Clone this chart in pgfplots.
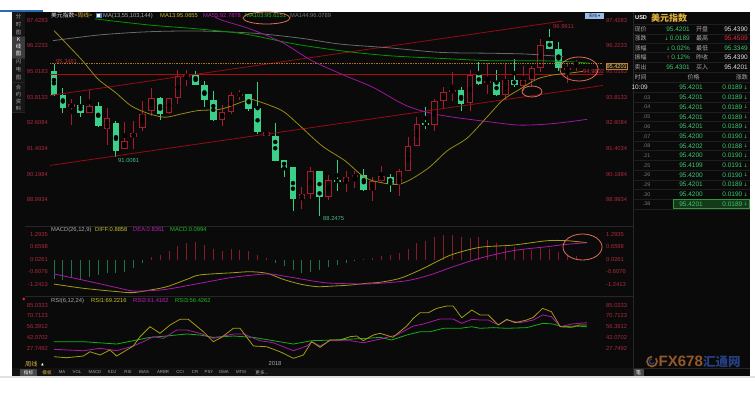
\documentclass[border=0pt]{standalone}
\usepackage{pgfplots}
\pgfplotsset{compat=1.18}
\usepackage{pgfplotstable}
\usepackage{fontspec}
\setmainfont{Liberation Sans}
\newfontfamily\cjk{Noto Sans CJK SC}
\newfontfamily\sym{DejaVu Sans}
\definecolor{bg}{RGB}{10,10,10}
\definecolor{upred}{RGB}{165,28,45}
\definecolor{dngreen}{RGB}{58,208,138}
\definecolor{trend}{RGB}{150,10,20}
\definecolor{hline}{RGB}{175,10,15}
\definecolor{maA}{RGB}{150,140,20}
\definecolor{maB}{RGB}{160,20,160}
\definecolor{maC}{RGB}{0,150,0}
\definecolor{maD}{RGB}{105,105,105}
\definecolor{lbl}{RGB}{175,40,60}
\definecolor{macdR}{RGB}{140,25,40}
\definecolor{macdG}{RGB}{30,115,75}
\definecolor{rsiA}{RGB}{165,155,20}
\definecolor{rsiB}{RGB}{170,25,170}
\definecolor{rsiC}{RGB}{20,175,20}
\definecolor{ring}{RGB}{225,110,90}
\definecolor{sep}{RGB}{38,38,38}
\definecolor{txt}{RGB}{170,170,170}
\definecolor{valg}{RGB}{60,200,110}
\definecolor{valr}{RGB}{230,40,60}
\definecolor{gold}{RGB}{225,175,60}
\definecolor{hy}{RGB}{200,190,40}
\definecolor{hm}{RGB}{190,30,190}
\definecolor{hg}{RGB}{30,190,30}
\definecolor{topblue}{RGB}{42,106,184}
\definecolor{lgray}{RGB}{225,225,225}
\definecolor{dotc}{RGB}{165,115,35}
\definecolor{boxblue}{RGB}{150,190,230}
\definecolor{iconblue}{RGB}{90,120,200}
\definecolor{tabbg}{RGB}{18,18,18}
\definecolor{tabhl}{RGB}{72,72,72}
\definecolor{rowsep}{RGB}{30,30,30}
\definecolor{hlfill}{RGB}{20,58,25}
\definecolor{hldraw}{RGB}{50,150,60}
\definecolor{wmorange}{RGB}{150,88,38}
\definecolor{wmblue}{RGB}{38,62,130}
\definecolor{pbox}{RGB}{190,130,40}
\definecolor{pboxfill}{RGB}{28,22,10}
\definecolor{pboxtxt}{RGB}{235,205,130}
\definecolor{lowg}{RGB}{70,190,130}
\definecolor{wht}{RGB}{225,225,225}
\definecolor{dimt}{RGB}{120,120,120}
\definecolor{navy}{RGB}{20,40,90}
\definecolor{side}{RGB}{22,22,22}
\definecolor{sidehl}{RGB}{60,60,60}
\newcommand\fs{\fontsize{5.8bp}{6bp}\selectfont}
\newcommand\fv{\fontsize{6.5bp}{7bp}\selectfont}

\pgfplotstableread{
i O H L C
0 95.02 95.35 93.88 93.90
1 93.93 94.24 93.08 93.29
3 93.46 93.88 92.89 93.05
5 93.41 93.57 92.40 92.47
7 92.60 92.71 91.01 91.27
12 93.76 93.80 92.74 93.02
16 94.85 95.02 94.38 94.39
17 94.39 94.58 93.36 93.68
18 93.68 94.11 92.68 92.74
22 93.96 93.97 93.18 93.26
23 93.29 94.51 92.08 92.16
25 92.00 92.59 90.83 90.83
26 90.88 90.88 90.08 90.49
27 90.52 90.55 88.49 89.04
30 90.33 90.35 88.25 89.14
32 89.93 90.88 89.42 89.82
35 90.18 90.44 89.40 89.47
38 90.08 90.21 89.35 89.74
42 92.59 93.34 92.32 92.51
46 94.15 94.30 93.18 93.49
48 94.86 95.47 94.39 94.43
50 94.54 95.10 93.88 93.93
52 94.63 95.60 94.27 94.38
56 96.46 96.99 96.07 96.07
57 96.07 96.38 95.05 95.18
}\greentab

\pgfplotstableread{
i O H L C
2 93.34 93.72 92.52 93.49
4 93.05 94.15 93.05 93.38
6 92.32 93.30 91.58 92.82
8 91.39 92.63 91.39 91.77
9 91.93 92.68 91.38 92.13
10 92.36 93.62 92.21 93.02
11 93.18 94.24 92.94 93.76
13 93.05 93.78 93.03 93.76
14 93.76 95.08 93.49 94.79
15 94.74 95.08 94.35 94.86
19 92.74 93.46 92.47 93.10
20 93.10 94.04 93.02 93.91
21 93.88 94.15 93.68 93.96
24 92.00 92.24 91.98 92.16
28 89.04 89.58 88.57 89.27
29 89.27 90.55 89.04 90.33
31 89.14 90.18 88.99 89.93
33 89.82 90.33 89.38 90.08
34 90.05 90.36 89.55 90.16
36 89.47 90.05 88.96 89.89
37 89.89 90.57 89.82 90.13
39 89.74 90.44 89.19 90.33
40 90.33 91.96 90.33 91.51
41 91.51 92.89 91.50 92.55
43 92.51 93.72 92.24 93.64
44 93.64 94.27 93.30 94.07
45 94.04 94.98 93.62 94.15
47 93.52 95.08 93.18 94.86
49 94.47 95.40 93.96 94.55
51 93.93 95.41 93.72 94.63
53 94.35 95.29 94.11 94.63
54 94.63 95.29 94.30 95.16
55 95.16 96.54 94.98 96.27
58 95.10 95.41 94.47 95.17
59 95.33 95.55 95.04 95.42
}\redtab

\pgfplotstableread{
i m
0 -0.98
1 -1.01
2 -0.93
3 -0.98
4 -0.85
5 -0.76
6 -0.68
7 -0.68
8 -0.60
9 -0.43
10 -0.18
11 0.12
12 0.24
13 0.44
14 0.69
15 0.86
16 0.89
17 0.74
18 0.56
19 0.46
20 0.53
21 0.49
22 0.44
23 0.24
24 0.11
25 -0.18
26 -0.31
27 -0.51
28 -0.68
29 -0.60
30 -0.51
31 -0.38
32 -0.26
33 -0.18
34 -0.06
35 0.04
36 0.07
37 0.19
38 0.24
39 0.36
40 0.53
41 0.83
42 0.96
43 1.13
44 1.25
45 1.25
46 1.16
47 1.08
48 1.13
49 0.99
50 0.83
51 0.66
52 0.63
53 0.53
54 0.49
55 0.58
56 0.53
57 0.41
58 0.24
59 0.19
}\macdtab

\pgfplotsset{panel/.style={scale only axis, hide axis, width=553bp,
  xmin=-0.45, xmax=62.03, anchor=north west, clip=true}}
\tikzset{t/.style={inner sep=0pt, font=\fs}}

\begin{document}
\begin{tikzpicture}[x=1bp,y=-1bp]
\useasboundingbox (0,0) rectangle (755,392);
\fill[white] (0,0) rectangle (755,392);
\fill[bg] (12,12) rectangle (750,376);
\fill[topblue] (0,10) rectangle (43,12);
\fill[lgray] (0,376) rectangle (755,378);
% left sidebar
\fill[side] (12,12) rectangle (25,112);
\fill[sidehl] (12,36) rectangle (25,58);
\draw[sep] (12,36) -- (25,36) (12,58) -- (25,58) (12,82) -- (25,82) (12,112) -- (25,112);
\node[align=center, text=txt, inner sep=0pt, font=\cjk\fontsize{5.3bp}{8bp}\selectfont] at (18.5,25) {分\\时\\图};
\node[align=center, text=white, inner sep=0pt, font=\cjk\fontsize{5.3bp}{7bp}\selectfont] at (18.5,47) {K\\线\\图};
\node[align=center, text=txt, inner sep=0pt, font=\cjk\fontsize{5.3bp}{8bp}\selectfont] at (18.5,70) {闪\\电\\图};
\node[align=center, text=txt, inner sep=0pt, font=\cjk\fontsize{5.3bp}{7bp}\selectfont] at (18.5,97.5) {合\\约\\资\\料};
% separators
\draw[sep, line width=0.6bp] (25,226) -- (633,226) (25,296) -- (633,296) (12,368) -- (750,368);
\draw[sep, line width=0.8bp] (633,12) -- (633,376);

% ===== main price panel =====
\begin{axis}[panel, at={(50bp,-13bp)}, height=211bp, ymin=87.863, ymax=97.756]
% green (falling) candles
\addplot[only marks, mark=none, forget plot, error bars/.cd, y dir=both, y explicit, error mark=none,
  error bar style={draw=dngreen, line width=0.9bp}]
  table[x=i, y expr={(\thisrow{H}+\thisrow{L})/2}, y error expr={(\thisrow{H}-\thisrow{L})/2}] {\greentab};
\addplot[only marks, mark=none, forget plot, error bars/.cd, y dir=both, y explicit, error mark=none,
  error bar style={draw=dngreen, line width=6.6bp}]
  table[x=i, y expr={(\thisrow{O}+\thisrow{C})/2}, y error expr={max(abs(\thisrow{O}-\thisrow{C})/2,0.02)}] {\greentab};
% red (rising) hollow candles
\addplot[only marks, mark=none, forget plot, error bars/.cd, y dir=both, y explicit, error mark=none,
  error bar style={draw=upred, line width=0.9bp}]
  table[x=i, y expr={(\thisrow{H}+\thisrow{L})/2}, y error expr={(\thisrow{H}-\thisrow{L})/2}] {\redtab};
\addplot[only marks, mark=none, forget plot, error bars/.cd, y dir=both, y explicit, error mark=none,
  error bar style={draw=upred, line width=6.6bp}]
  table[x=i, y expr={(\thisrow{O}+\thisrow{C})/2}, y error expr={max(abs(\thisrow{O}-\thisrow{C})/2,0.03)}] {\redtab};
\addplot[only marks, mark=none, forget plot, error bars/.cd, y dir=both, y explicit, error mark=none,
  error bar style={draw=bg, line width=4.6bp}]
  table[x=i, y expr={(\thisrow{O}+\thisrow{C})/2}, y error expr={max(abs(\thisrow{O}-\thisrow{C})/2-0.045,0)}] {\redtab};
% trend lines
\addplot[trend, line width=0.8bp] coordinates {(-0.45,93.89) (57.5,97.38)};
\addplot[trend, line width=0.8bp] coordinates {(-0.45,90.61) (62.03,94.36)};
\addplot[hline, line width=0.8bp] coordinates {(-0.45,94.89) (62.03,94.89)};
\addplot[dotc, densely dotted, line width=0.7bp] coordinates {(-0.45,95.40) (62.03,95.40)};
% moving averages
\addplot[maD, line width=0.8bp, smooth, tension=0.5] coordinates {(-0.11,96.46) (5.20,96.73) (10.85,96.88) (16.50,96.91) (22.49,96.81) (27.80,96.58) (32.32,96.30) (37.97,96.12) (43.62,95.91) (49.27,95.87) (53.45,95.83) (57.51,95.71)};
\addplot[maC, line width=0.8bp, smooth, tension=0.5] coordinates {(4.63,97.48) (10.85,97.19) (16.27,97.01) (21.58,96.77) (27.23,96.30) (32.88,95.96) (37.97,95.75) (43.62,95.63) (49.27,95.52) (54.58,95.52) (58.31,95.47) (60.56,95.40)};
\addplot[maB, line width=0.8bp, smooth, tension=0.5] coordinates {(18.19,97.57) (19.10,97.40) (22.15,97.01) (25.76,96.38) (29.15,95.52) (32.88,94.82) (36.05,94.27) (39.89,93.40) (43.62,92.97) (49.27,92.65) (52.66,92.50) (56.38,92.57) (60.23,92.77)};
\addplot[maA, line width=0.8bp, smooth, tension=0.5] coordinates {(0,96.93) (3.05,95.60) (4.97,94.66) (6.89,94.05) (8.70,93.41) (10.62,93.05) (12.54,92.87) (14.35,93.02) (16.27,93.18) (18.98,93.26) (21.92,93.68) (23.05,93.62) (25.76,93.18) (27.57,92.55) (30.28,91.53) (32.88,90.83) (34.58,90.21) (36.05,89.89) (39.10,89.74) (42.15,90.44) (44.41,91.29) (46.67,91.89) (48.93,92.88) (50.73,93.68) (52.66,94.19) (54.58,94.66) (56.38,94.85) (58.31,94.94) (59.77,95.02)};
\end{axis}

% ===== MACD panel =====
\begin{axis}[panel, at={(50bp,-226bp)}, height=70bp, ymin=-1.821, ymax=1.700]
\addplot[ycomb, macdR, line width=0.9bp, mark=none] table[x=i, y expr={max(\thisrow{m},0)}] {\macdtab};
\addplot[ycomb, macdG, line width=0.9bp, mark=none] table[x=i, y expr={min(\thisrow{m},0)}] {\macdtab};
\addplot[rsiA, line width=0.8bp, smooth, tension=0.5] coordinates {(0,-1.22) (3.28,-1.43) (7.12,-1.60) (8.93,-1.65) (10.85,-1.52) (12.77,-1.35) (15.03,-0.98) (16.50,-0.76) (20.23,-0.65) (22.15,-0.60) (24.07,-0.68) (25.88,-0.98) (27.80,-1.22) (29.72,-1.35) (31.53,-1.32) (33.45,-1.27) (35.37,-1.18) (36.84,-1.13) (39.10,-0.93) (41.36,-0.51) (43.62,-0.01) (45.08,0.28) (48.14,0.63) (51.86,0.74) (55.71,0.96) (57.97,0.96) (60.23,0.86)};
\addplot[rsiB, line width=0.8bp, smooth, tension=0.5] coordinates {(0,-0.71) (3.28,-1.02) (7.12,-1.40) (8.93,-1.57) (10.85,-1.55) (12.77,-1.48) (16.50,-1.18) (20.23,-0.88) (24.07,-0.71) (25.88,-0.81) (29.72,-1.10) (31.53,-1.18) (35.37,-1.22) (36.84,-1.18) (39.89,-1.05) (42.49,-0.76) (45.08,-0.35) (48.14,0.08) (51.86,0.46) (55.71,0.66) (57.97,0.78) (60.23,0.86)};
\end{axis}

% ===== RSI panel =====
\begin{axis}[panel, at={(50bp,-296bp)}, height=72bp, ymin=1.64, ymax=96.95]
\addplot[rsiC, line width=0.8bp] coordinates {(0,36.5) (3.31,36.5) (7.08,33.4) (8.96,37.8) (10.85,42.2) (12.74,44.0) (15.0,46.7) (16.5,45.3) (18.0,42.2) (20.27,44.0) (22.53,42.2) (24.78,37.8) (27.05,33.4) (29.12,37.8) (31.57,38.7) (35.33,40.9) (36.84,42.2) (38.15,38.7) (39.85,45.3) (41.36,49.7) (42.5,49.7) (44.0,54.2) (45.9,54.2) (47.2,56.3) (48.14,54.2) (49.65,55.1) (51.15,54.2) (53.4,55.1) (55.25,60.8) (56.4,59.9) (57.4,56.3) (59.0,57.2) (60.2,56.3)};
\addplot[rsiB, line width=0.8bp] coordinates {(0,26.4) (3.31,24.5) (5.2,27.7) (7.08,24.5) (8.96,30.8) (10.09,36.5) (11.23,43.1) (12.36,40.9) (13.86,51.9) (15.0,51.9) (16.5,47.6) (18.0,40.9) (20.27,46.7) (21.4,46.7) (23.27,37.8) (24.78,35.1) (27.05,24.5) (28.56,30.8) (29.12,36.5) (30.06,30.8) (31.19,37.8) (33.45,37.8) (34.95,35.1) (36.84,40.0) (38.7,45.3) (40.6,57.2) (41.73,59.9) (43.6,66.5) (45.1,66.5) (46.07,60.8) (47.2,66.0) (48.14,65.2) (49.07,65.2) (50.2,58.6) (51.15,65.2) (52.66,61.6) (54.16,65.2) (55.2,71.8) (56.2,69.6) (57.2,56.3) (58.5,59.9) (60.2,61.6)};
\addplot[rsiA, line width=0.8bp] coordinates {(0,16.6) (1.43,15.3) (3.31,17.5) (4.07,23.2) (5.2,18.9) (6.33,25.5) (7.08,17.5) (8.21,25.5) (8.96,30.8) (9.72,43.1) (10.85,56.3) (11.98,47.6) (13.11,58.6) (14.24,66.1) (15.18,66.1) (16.88,49.7) (18.0,36.5) (18.95,42.3) (20.27,54.2) (21.02,54.2) (22.53,30.8) (24.03,29.8) (25.54,23.2) (27.05,14.5) (28.18,18.9) (29.12,36.5) (30.06,29.0) (31.19,38.7) (32.32,38.7) (33.45,43.1) (34.2,44.0) (34.95,37.8) (36.08,45.3) (36.84,47.6) (38.3,42.3) (39.85,57.2) (40.6,67.4) (41.36,74.9) (42.3,74.9) (43.24,80.6) (44.37,83.7) (45.1,83.7) (46.07,68.2) (47.2,78.4) (48.14,71.8) (49.07,71.8) (50.2,58.6) (51.15,66.1) (52.1,61.6) (53.4,65.2) (54.16,68.7) (55.2,80.6) (56.2,76.2) (57.2,56.3) (58.5,55.5) (59.4,58.6) (60.2,58.6)};
\end{axis}

% ===== axis labels =====
\foreach \v/\y in {97.4283/20.0, 96.2233/45.7, 95.0183/71.6, 93.8133/97.1, 92.6084/122.8, 91.4034/148.5, 90.1984/174.2, 88.9934/199.9,
  1.2935/234.1, 0.6598/246.7, 0.0261/259.3, -0.6076/271.9, -1.2413/284.5,
  85.0333/305.0, 70.7123/315.8, 56.3912/326.6, 42.0702/337.5, 27.7492/348.3}{
  \node[t, anchor=east, text=lbl] at (48,\y) {\v};
  \node[t, anchor=west, text=lbl] at (606,\y) {\v};
}
% current price box
\node[inner sep=0.8bp, draw=pbox, fill=pboxfill, text=pboxtxt, font=\fontsize{5.6bp}{6bp}\selectfont, anchor=west] at (605.5,66.3) {95.4201};
\fill[boxblue] (585,13) rectangle (604,19);
\node[inner sep=0pt, font=\cjk\fontsize{4.2bp}{5bp}\selectfont, text=navy] at (594.5,16) {周线\,{\sym ▾}};

% extreme value labels
\node[t, anchor=west, text=lbl] at (56,61.3) {95.3481};
\node[t, anchor=west, text=lowg] at (118,160.7) {91.0081};
\node[t, anchor=west, text=lowg] at (323,218) {88.2475};
\node[t, anchor=west, text=lbl] at (553,26.3) {96.9911};
\node[t, anchor=west, text=valr] at (583,71.3) {94.9802};

% panel headers
\fill[iconblue] (96,12.8) rectangle (101.5,18.3);
\fill[white] (97.3,14) rectangle (100.2,17);
\node[t, anchor=west, text=wht] at (51,15.5) {\cjk 美元指数\textcolor{gold}{<周线>}};
\node[t, anchor=west, text=txt] at (103,15.5) {MA(13,55,103,144)};
\node[t, anchor=west, text=hy] at (160,15.5) {MA13:95.0655};
\node[t, anchor=west, text=hm] at (203,15.5) {MA55:92.7878};
\node[t, anchor=west, text=hg] at (245,15.5) {MA103:95.6151};
\node[t, anchor=west, text=dimt] at (290,15.5) {MA144:96.0789};

\node[t, anchor=west, text=txt] at (51,229.5) {MACD(26,12,9)};
\node[t, anchor=west, text=hy] at (95,229.5) {DIFF:0.8858};
\node[t, anchor=west, text=hm] at (133,229.5) {DEA:0.8361};
\node[t, anchor=west, text=hg] at (170,229.5) {MACD:0.0994};

\node[t, anchor=west, text=txt] at (51,300.5) {RSI(6,12,24)};
\node[t, anchor=west, text=hy] at (91,300.5) {RSI1:69.2216};
\node[t, anchor=west, text=hm] at (133,300.5) {RSI2:61.4162};
\node[t, anchor=west, text=hg] at (175,300.5) {RSI3:56.4262};
\node[inner sep=0pt, text=valr, font=\sym\fontsize{4bp}{5bp}\selectfont] at (24,299.5) {◆};

% annotation rings
\draw[ring, line width=0.8bp] (266.5,18) ellipse [x radius=23.5bp, y radius=6bp];
\draw[ring, line width=0.8bp] (579,69) ellipse [x radius=19bp, y radius=12bp];
\draw[ring, line width=0.8bp] (532,91.5) ellipse [x radius=10bp, y radius=5.5bp];
\draw[ring, line width=0.8bp] (582.5,247) ellipse [x radius=19.5bp, y radius=13bp];

% bottom bar
\node[t, text=txt] at (275,363) {2018};
\node[inner sep=0pt, anchor=west, text=gold, font=\cjk\fontsize{6.2bp}{7bp}\selectfont] at (25,364) {周线};
\node[inner sep=0pt, text=white, font=\sym\fontsize{3.5bp}{4bp}\selectfont] at (42.5,364.5) {▲};
\fill[tabbg] (12,368.4) rectangle (632.6,376);
\fill[tabhl] (20,369) rectangle (37,375.5);
\node[inner sep=0pt, text=white, font=\cjk\fontsize{4.6bp}{5bp}\selectfont] at (28.5,372.3) {指标};
\node[inner sep=0pt, text=gold, font=\cjk\fontsize{4.6bp}{5bp}\selectfont] at (47,372.3) {模板};
\foreach \n/\x in {MA/62, VOL/77, MACD/95, KDJ/112, RSI/128, BIAS/144, ARBR/163, CCI/180, CR/195, PSY/209, DMA/224, MTM/241}{
  \node[inner sep=0pt, text=txt, font=\fontsize{4.3bp}{5bp}\selectfont] at (\x,372.3) {\n};
}
\node[inner sep=0pt, text=txt, font=\cjk\fontsize{4.6bp}{5bp}\selectfont] at (262,372.3) {更多...};

% ===== right information panel =====
\node[inner sep=0pt, anchor=west, text=white, font=\bfseries\fontsize{5.6bp}{6bp}\selectfont] at (635,18) {USD};
\node[inner sep=0pt, anchor=west, text=gold, font=\cjk\bfseries\fontsize{9bp}{10bp}\selectfont] at (651,18.3) {美元指数};
\foreach \y in {24,33.8,43.2,52.6,62,72,82.3,92.5,102.2,111.9,121.6,131.3,141,150.7,160.4,170.1,179.8,189.5,199.2,209}{
  \draw[rowsep, line width=0.5bp] (634,\y) -- (750,\y);
}
\foreach \l/\y in {现价/29.3, 涨跌/38.7, 涨幅/48, 振幅/57.3, 卖出/67}{
  \node[inner sep=0pt, anchor=west, text=txt, font=\cjk\fontsize{6bp}{7bp}\selectfont] at (634.5,\y) {\l};
}
\foreach \l/\y in {开盘/29.3, 最高/38.7, 最低/48, 昨收/57.3, 买入/67}{
  \node[inner sep=0pt, anchor=west, text=txt, font=\cjk\fontsize{6bp}{7bp}\selectfont] at (696,\y) {\l};
}
\node[inner sep=0pt, anchor=east, text=valg, font=\fv] at (690,29.3) {95.4201};
\node[inner sep=0pt, anchor=east, text=valg, font=\fv] at (690,38.7) {{\sym\fontsize{5bp}{6bp}\selectfont ↓}\,0.0189};
\node[inner sep=0pt, anchor=east, text=valg, font=\fv] at (690,48) {{\sym\fontsize{5bp}{6bp}\selectfont ↓}\,0.02\%};
\node[inner sep=0pt, anchor=east, text=valg, font=\fv] at (690,57.3) {\textcolor{valr}{\sym\fontsize{5bp}{6bp}\selectfont ↑}\,0.12\%};
\node[inner sep=0pt, anchor=east, text=valg, font=\fv] at (690,67) {95.4301};
\node[inner sep=0pt, anchor=east, text=wht, font=\fv] at (748,29.3) {95.4390};
\node[inner sep=0pt, anchor=east, text=valr, font=\fv] at (748,38.7) {95.4509};
\node[inner sep=0pt, anchor=east, text=valg, font=\fv] at (748,48) {95.3349};
\node[inner sep=0pt, anchor=east, text=wht, font=\fv] at (748,57.3) {95.4390};
\node[inner sep=0pt, anchor=east, text=wht, font=\fv] at (748,67) {95.4201};
\node[inner sep=0pt, anchor=west, text=txt, font=\cjk\fontsize{6bp}{7bp}\selectfont] at (634.5,77.3) {时间};
\node[inner sep=0pt, text=txt, font=\cjk\fontsize{6bp}{7bp}\selectfont] at (693.5,77.3) {价格};
\node[inner sep=0pt, anchor=east, text=txt, font=\cjk\fontsize{6bp}{7bp}\selectfont] at (748,77.3) {涨跌};
\filldraw[fill=hlfill, draw=hldraw, line width=0.5bp] (673,199.6) rectangle (749.3,208);
\foreach \p/\c/\y in {95.4201/0.0189/87.7, 95.4201/0.0189/97.4, 95.4201/0.0189/107.1, 95.4201/0.0189/116.8,
  95.4201/0.0189/126.5, 95.4200/0.0190/136.2, 95.4202/0.0188/145.9, 95.4200/0.0190/155.6,
  95.4199/0.0191/165.3, 95.4200/0.0190/175.0, 95.4201/0.0189/184.7, 95.4200/0.0190/194.4, 95.4201/0.0189/204.0}{
  \node[inner sep=0pt, anchor=east, text=valg, font=\fv] at (703,\y) {\p};
  \node[inner sep=0pt, anchor=east, text=valg, font=\fv] at (742.5,\y) {\c};
  \node[inner sep=0pt, text=valg, font=\sym\fontsize{5bp}{6bp}\selectfont] at (745.8,\y) {↓};
}
\node[inner sep=0pt, anchor=east, text=wht, font=\fv] at (648,87.7) {10:09};
\foreach \tm/\y in {.03/97.4, .04/107.1, .05/116.8, .06/126.5, .07/136.2, .08/145.9, .21/155.6, .25/165.3, .26/175.0, .29/184.7, .30/194.4, .38/204.0}{
  \node[inner sep=0pt, anchor=east, text=dimt, font=\fontsize{5.3bp}{6bp}\selectfont] at (650.5,\y) {\tm};
}
% watermark
\draw[wmorange, line width=1.6bp] (652,356.5) arc[start angle=90, end angle=400, radius=5bp];
\draw[wmblue, line width=1.2bp] (652,358.8) arc[start angle=90, end angle=330, radius=2.6bp];
\node[inner sep=0pt, anchor=west, text=wmorange, font=\bfseries\fontsize{15bp}{16bp}\selectfont] at (658.5,361.5) {FX678};
\node[inner sep=0pt, anchor=west, text=wmblue, font=\cjk\bfseries\fontsize{12.5bp}{13bp}\selectfont] at (703,361.5) {汇通网};
\fill[tabhl] (633.5,369) rectangle (643.5,375.5);
\node[inner sep=0pt, text=white, font=\cjk\fontsize{5bp}{6bp}\selectfont] at (638.5,372.3) {笔};
\end{tikzpicture}
\end{document}
